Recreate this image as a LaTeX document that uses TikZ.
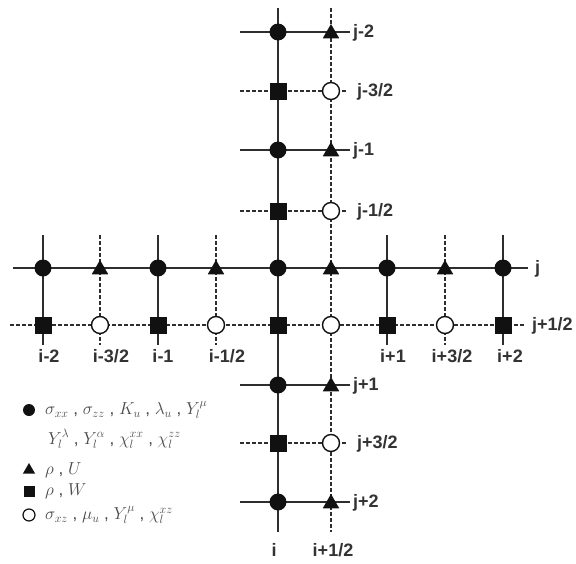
\documentclass[tikz,border=0pt]{standalone}
\usepackage{fontspec}
\setmainfont{Liberation Sans}
\usetikzlibrary{shapes.geometric}
\definecolor{ink}{HTML}{111111}
\definecolor{linec}{HTML}{2E2E2E}
\definecolor{labc}{HTML}{333333}
\definecolor{legc}{HTML}{4A4A4A}
\tikzset{
  solidln/.style={draw=linec, line width=1.4pt},
  dashln/.style={draw=linec, line width=1.4pt, dash pattern=on 3.5pt off 2.5pt},
  fcirc/.style={circle, fill=ink, minimum size=17pt, inner sep=0pt},
  fsq/.style={rectangle, fill=ink, minimum size=17pt, inner sep=0pt},
  ftri/.style={regular polygon, regular polygon sides=3, fill=ink, minimum size=19pt, inner sep=0pt, yshift=-1.5pt},
  ocirc/.style={circle, draw=ink, line width=1.4pt, fill=white, minimum size=17pt, inner sep=0pt},
  lfcirc/.style={circle, fill=ink, minimum size=12pt, inner sep=0pt},
  lfsq/.style={rectangle, fill=ink, minimum size=11pt, inner sep=0pt},
  lftri/.style={regular polygon, regular polygon sides=3, fill=ink, minimum size=14pt, inner sep=0pt},
  locirc/.style={circle, draw=ink, line width=1.2pt, fill=white, minimum size=12pt, inner sep=0pt},
  lab/.style={text=labc, font=\bfseries\fontsize{18}{20}\selectfont, inner sep=0pt},
  leg/.style={text=legc, font=\fontsize{17}{20}\selectfont, inner sep=0pt, anchor=west},
}
\begin{document}
\begin{tikzpicture}[x=1pt,y=-1pt]
\useasboundingbox (0,0) rectangle (576,563);
% ---- line end points ----
\coordinate (ci-t) at (278,8);   \coordinate (ci-b) at (278,532);
\coordinate (ch-t) at (331,8);   \coordinate (ch-b) at (331,532);
\coordinate (rj-l) at (13,268);  \coordinate (rj-r) at (528,268);
\coordinate (rh-l) at (10,325);  \coordinate (rh-r) at (525,325);
% side columns
\foreach \n/\x in {m2/43, m1/158, p1/387, p2/503}{
  \coordinate (sc\n-t) at (\x,235); \coordinate (sc\n-b) at (\x,345);
}
\foreach \n/\x in {m15/100, m05/216, p15/445}{
  \coordinate (hc\n-t) at (\x,235); \coordinate (hc\n-b) at (\x,345);
}
% short rows
\foreach \n/\y in {m2/32, m1/150, p1/385, p2/502}{
  \coordinate (sr\n-l) at (240,\y); \coordinate (sr\n-r) at (350,\y);
}
\foreach \n/\y in {m15/91, m05/211, p15/443}{
  \coordinate (hr\n-l) at (240,\y); \coordinate (hr\n-r) at (346,\y);
}
% ---- lines ----
\draw[solidln] (ci-t) -- (ci-b);
\draw[dashln] (ch-t) -- (ch-b);
\draw[solidln] (rj-l) -- (rj-r);
\draw[dashln] (rh-l) -- (rh-r);
\foreach \n in {m2,m1,p1,p2}{ \draw[solidln] (sc\n-t) -- (sc\n-b); }
\foreach \n in {m15,m05,p15}{ \draw[dashln] (hc\n-t) -- (hc\n-b); }
\foreach \n in {m2,m1,p1,p2}{ \draw[solidln] (sr\n-l) -- (sr\n-r); }
\foreach \n in {m15,m05,p15}{ \draw[dashln] (hr\n-l) -- (hr\n-r); }
% ---- markers: column i ----
\foreach \n/\y in {m2/32, m1/150, o/268, p1/385, p2/502}{ \node[fcirc] (ci\n) at (278,\y) {}; }
\foreach \n/\y in {m15/91, m05/211, p05/325, p15/443}{ \node[fsq] (ci\n) at (278,\y) {}; }
% column i+1/2
\foreach \n/\y in {m2/32, m1/150, o/268, p1/385, p2/502}{ \node[ftri] (ch\n) at (331,\y) {}; }
\foreach \n/\y in {m15/91, m05/211, p05/325, p15/443}{ \node[ocirc] (ch\n) at (331,\y) {}; }
% row j
\foreach \n/\x in {m2/43, m1/158, p1/387, p2/503}{ \node[fcirc] (rj\n) at (\x,268) {}; }
\foreach \n/\x in {m15/100, m05/216, p15/445}{ \node[ftri] (rj\n) at (\x,268) {}; }
% row j+1/2
\foreach \n/\x in {m2/43, m1/158, p1/387, p2/503}{ \node[fsq] (rh\n) at (\x,325) {}; }
\foreach \n/\x in {m15/100, m05/216, p15/445}{ \node[ocirc] (rh\n) at (\x,325) {}; }
% ---- right labels ----
\node[lab, anchor=west] (lj-2) at (353,33) {j-2};
\node[lab, anchor=west] (lj-32) at (357,92) {j-3/2};
\node[lab, anchor=west] (lj-1) at (353,151) {j-1};
\node[lab, anchor=west] (lj-12) at (357,212) {j-1/2};
\node[lab, anchor=west] (lj) at (535,269) {j};
\node[lab, anchor=west] (lj+12) at (532,326) {j+1/2};
\node[lab, anchor=west] (lj+1) at (353,386) {j+1};
\node[lab, anchor=west] (lj+32) at (357,444) {j+3/2};
\node[lab, anchor=west] (lj+2) at (353,503) {j+2};
% ---- bottom labels ----
\node[lab] (li-2) at (49,356) {i-2};
\node[lab] (li-32) at (111,356) {i-3/2};
\node[lab] (li-1) at (163,356) {i-1};
\node[lab] (li-12) at (227,356) {i-1/2};
\node[lab] (li+1) at (393,356) {i+1};
\node[lab] (li+32) at (452,356) {i+3/2};
\node[lab] (li+2) at (510,356) {i+2};
\node[lab] (li) at (274,550) {i};
\node[lab] (li+12) at (333,550) {i+1/2};
% ---- legend ----
\node[lfcirc] (k1) at (29,410) {};
\node[leg] (t1) at (45,410) {$\sigma_{xx}$ , $\sigma_{zz}$ , $K_u$ , $\lambda_u$ , $Y_l^{\mu}$};
\node[leg] (t2) at (48,439) {$Y_l^{\lambda}$ , $Y_l^{\alpha}$ , $\chi_l^{xx}$ , $\chi_l^{zz}$};
\node[lftri] (k3) at (29,470) {};
\node[leg] (t3) at (45,470) {$\rho$ , $U$};
\node[lfsq] (k4) at (29,491) {};
\node[leg] (t4) at (45,491) {$\rho$ , $W$};
\node[locirc] (k5) at (29,515) {};
\node[leg] (t5) at (45,515) {$\sigma_{xz}$ , $\mu_u$ , $Y_l^{\mu}$ , $\chi_l^{xz}$};
\end{tikzpicture}
\end{document}
